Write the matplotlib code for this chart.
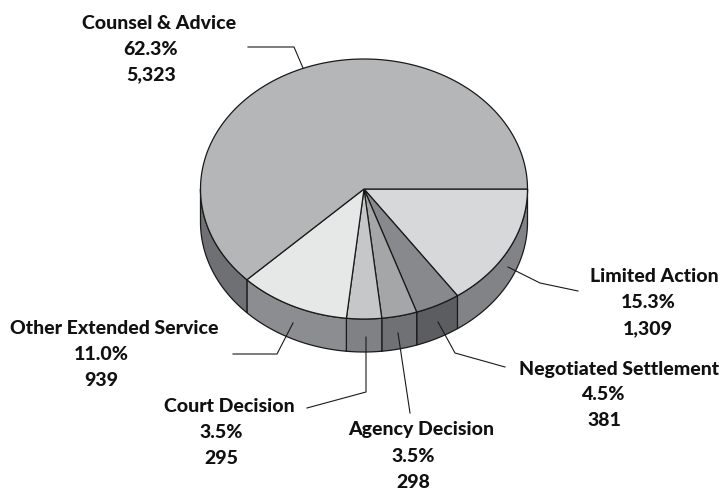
import numpy as np
import matplotlib
matplotlib.use("Agg")
import matplotlib.pyplot as plt

# clockwise from 3 o'clock, like the original
labels = ["Limited Action", "Negotiated Settlement", "Agency Decision",
          "Court Decision", "Other Extended Service", "Counsel & Advice"]
percents = ["15.3%", "4.5%", "3.5%", "3.5%", "11.0%", "62.3%"]
counts = [1309, 381, 298, 295, 939, 5323]
count_text = ["1,309", "381", "298", "295", "939", "5,323"]

top_colors = ["#d7d8da", "#88898c", "#a5a6a8", "#c6c7c9", "#e6e8e8", "#b5b6b8"]
side_colors = ["#828386", "#5c5d60", "#707174", "#808184", "#8c8d90", "#6f7073"]

# pie geometry in pixels
cx, cy = 364, 189
rx, ry = 163.5, 130
depth = 33

fig = plt.figure(figsize=(7.21, 4.91), dpi=100)
ax = fig.add_axes([0, 0, 1, 1])
ax.set_xlim(0, 721)
ax.set_ylim(491, 0)
ax.axis("off")

edges = np.concatenate([[0], np.cumsum(counts)]) / sum(counts) * 2 * np.pi

def arc(a, b):
    t = np.linspace(a, b, 200)
    return cx + rx * np.cos(t), cy + ry * np.sin(t)

# side wall, only the front half shows
for i in range(len(counts)):
    a, b = edges[i], min(edges[i + 1], np.pi)
    if a >= np.pi:
        continue
    x, y = arc(a, b)
    ax.fill(np.r_[x, x[::-1]], np.r_[y, y[::-1] + depth],
            fc=side_colors[i], ec="#1a1a1a", lw=0.9, zorder=2)

# top face
for i in range(len(counts)):
    x, y = arc(edges[i], edges[i + 1])
    ax.fill(np.r_[cx, x], np.r_[cy, y], fc=top_colors[i], ec="#1a1a1a",
            lw=0.9, joinstyle="round", zorder=3)

# leader lines
leaders = [
    [(508, 267), (540, 283), (578, 291)],
    [(438, 322), (455, 353), (505, 367)],
    [(398, 333), (410, 413)],
    [(366, 337), (366, 392), (307, 408)],
    [(293, 323), (277, 354), (233, 354)],
    [(248, 47), (294, 47), (303, 68)],
]
for pts in leaders:
    xs, ys = zip(*pts)
    ax.plot(xs, ys, color="#1a1a1a", lw=0.8, zorder=4)

# label centre x, pct/count centre x, first line y
label_x = [654, 619, 421, 229, 114, 159]
value_x = [648, 604, 413, 221, 101, 151]
label_y = [277, 369, 430, 407, 329, 23]
for i in range(len(labels)):
    y = label_y[i]
    kw = dict(family="Lato", weight="black", fontsize=14, color="#111111",
              ha="center", va="center")
    ax.text(label_x[i], y, labels[i], **kw)
    ax.text(value_x[i], y + 26, percents[i], **kw)
    ax.text(value_x[i], y + 52, count_text[i], **kw)

fig.savefig("out.png", dpi=100)
